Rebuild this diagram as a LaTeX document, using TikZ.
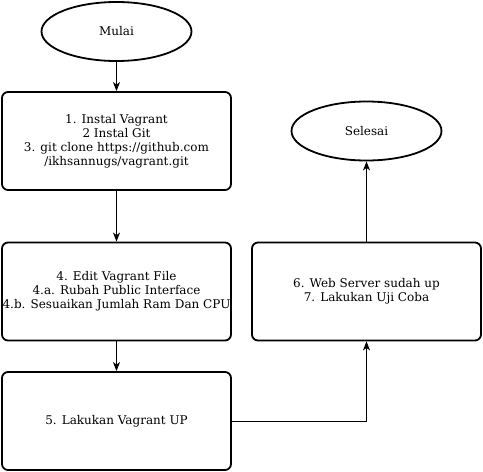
\documentclass[tikz,border=0pt]{standalone}
\usepackage{fontspec}
\setmainfont{DejaVu Serif}
\usetikzlibrary{shapes.geometric, arrows.meta}

\begin{document}
\begin{tikzpicture}[x=1pt, y=-1pt,
    terminal/.style={draw, line width=1.8pt, ellipse, minimum width=150pt, minimum height=59pt, inner sep=0pt},
    process/.style={draw, line width=1.8pt, rounded corners=6pt, minimum width=229pt, minimum height=98pt, align=center, inner sep=0pt},
    arrow/.style={-{Stealth[length=9pt, width=7pt, inset=2.5pt]}, line width=1pt}]

  \useasboundingbox (0, 0) rectangle (483, 472);
  \fontsize{12}{14}\selectfont

  \node[terminal] (mulai) at (116.5, 31.5) {Mulai};
  \node[process] (instal) at (116.5, 141)
    {1. Instal Vagrant\\2 Instal Git\\3. git clone https://github.com\\/ikhsannugs/vagrant.git};
  \node[process] (edit) at (116.5, 291.5)
    {4. Edit Vagrant File\\4.a. Rubah Public Interface\\4.b. Sesuaikan Jumlah Ram Dan CPU};
  \node[process] (up) at (116.5, 421) {5. Lakukan Vagrant UP};
  \node[process] (web) at (366.5, 291.5)
    {6. Web Server sudah up\\7. Lakukan Uji Coba};
  \node[terminal] (selesai) at (366.5, 131) {Selesai};

  \draw[arrow] (mulai) -- (instal);
  \draw[arrow] (instal) -- (edit);
  \draw[arrow] (edit) -- (up);
  \draw[arrow] (up.east) -| (web.south);
  \draw[arrow] (web) -- (selesai);

\end{tikzpicture}
\end{document}
